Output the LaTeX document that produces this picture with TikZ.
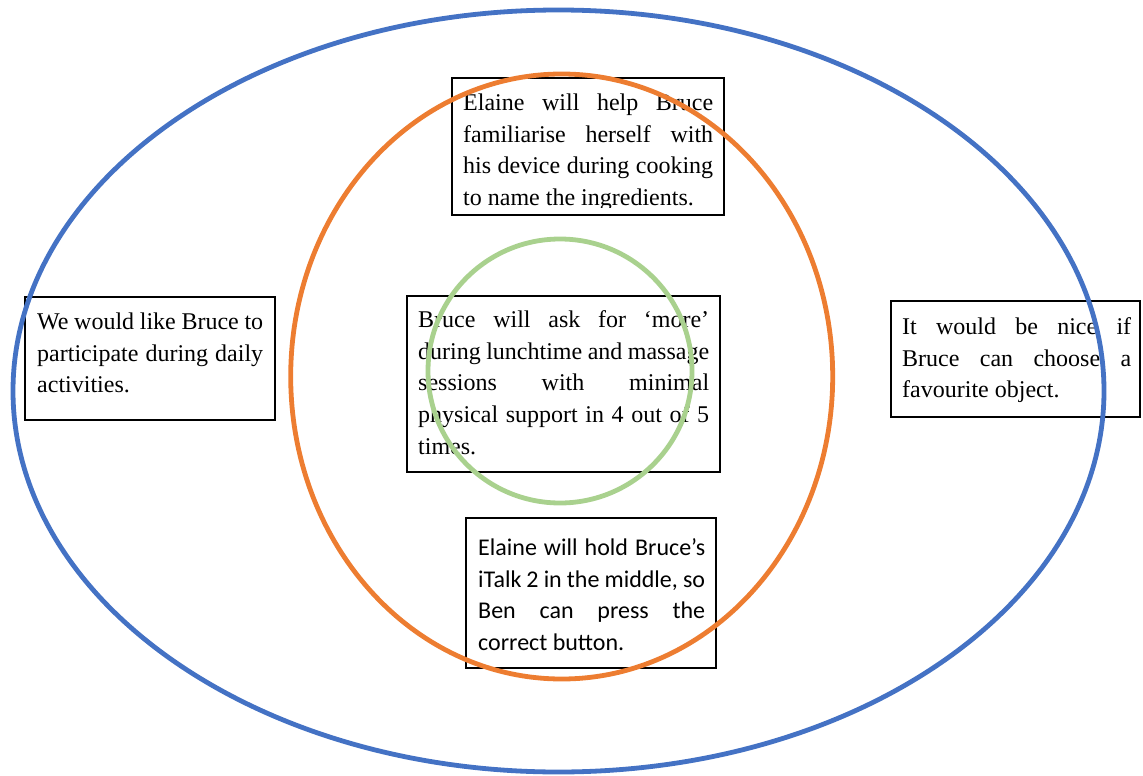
\documentclass[tikz,border=0pt]{standalone}
\usepackage{fontspec}
\setmainfont{Liberation Serif}
\newfontfamily\calibri{Carlito}
\definecolor{eblue}{HTML}{4472C4}
\definecolor{eorange}{HTML}{ED7D31}
\definecolor{egreen}{HTML}{A9D18E}
\newcommand\jline[1]{\hbox to \linewidth{#1}}
\newcommand\lline[1]{\hbox{#1}}
\newcommand\txtblock[2]{\parbox[t]{#1}{\fontsize{24}{31.7}\selectfont #2}}
\begin{document}
\begin{tikzpicture}[x=1pt,y=-1pt,
  textbox/.style={draw=black, line width=1.2pt, fill=white, inner sep=0pt},
  txt/.style={inner sep=0pt, anchor=base west},
  ring/.style={line width=4.8pt}]
\useasboundingbox (0,0) rectangle (1143,776);
% boxes
\node[textbox, minimum width=272pt, minimum height=137pt] (topbox) at (588,146.5) {};
\node[textbox, minimum width=313pt, minimum height=176pt] (centerbox) at (563.5,384) {};
\node[textbox, minimum width=250pt, minimum height=150pt] (bottombox) at (591,593) {};
\node[textbox, minimum width=250pt, minimum height=123pt] (leftbox) at (150,358.5) {};
\node[textbox, minimum width=249pt, minimum height=116pt] (rightbox) at (1015.5,359) {};
% texts
\begin{scope}
\clip (452,78) rectangle (724,207);
\node[txt] (toptext) at (463,110.5) {\txtblock{250pt}{%
\jline{Elaine will help Bruce}%
\jline{familiarise herself with}%
\jline{his device during cooking}%
\lline{to name the ingredients.}}};
\end{scope}
\node[txt] (centertext) at (418,327.5) {\txtblock{291pt}{%
\jline{Bruce will ask for ‘more’}%
\jline{during lunchtime and massage}%
\jline{sessions with minimal}%
\jline{physical support in 4 out of 5}%
\lline{times.}}};
\node[txt] (bottomtext) at (478,555.5) {\txtblock{227pt}{\calibri
\jline{Elaine will hold Bruce’s}%
\jline{iTalk 2 in the middle, so}%
\jline{Ben can press the}%
\lline{correct button.}}};
\node[txt] (lefttext) at (37,329.5) {\txtblock{226pt}{%
\jline{We would like Bruce to}%
\jline{participate during daily}%
\lline{activities.}}};
\node[txt] (righttext) at (902,334.5) {\txtblock{229pt}{%
\jline{It would be nice if}%
\jline{Bruce can choose a}%
\lline{favourite object.}}};
% rings
\draw[ring, eblue] (558.5,391) ellipse [x radius=545.5pt, y radius=381pt];
\draw[ring, eorange] (561.7,376.5) ellipse [x radius=271pt, y radius=302.5pt];
\draw[ring, egreen] (560,371) circle [radius=132pt];
\end{tikzpicture}
\end{document}
